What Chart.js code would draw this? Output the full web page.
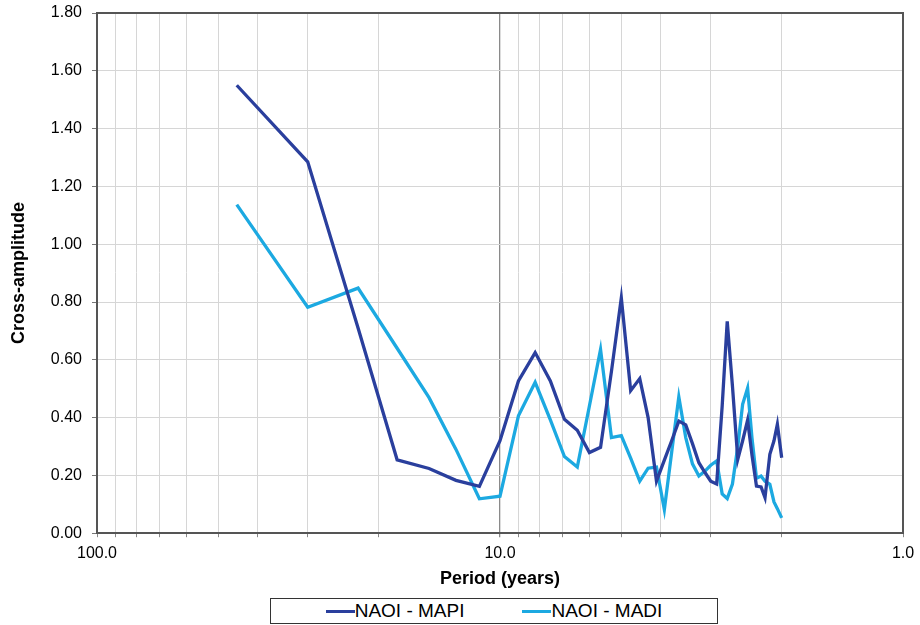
<!DOCTYPE html>
<html>
<head>
<meta charset="utf-8">
<script src="https://cdn.jsdelivr.net/npm/chart.js@4.4.1/dist/chart.umd.min.js"></script>
<style>
  html, body { margin: 0; padding: 0; background: #ffffff; }
  #wrap { position: relative; width: 920px; height: 625px; }
  #legend {
    position: absolute; left: 270px; top: 598px; width: 446px; height: 24px;
    border: 1px solid #333; background: #fff;
    display: flex; align-items: center; justify-content: center;
    font-family: "Liberation Sans", Arial, sans-serif; font-size: 19px; color: #000;
  }
  .item { display: flex; align-items: center; margin: 0 29px; }
  .swatch { display: inline-block; width: 29px; height: 3px; margin-right: 0; }
</style>
</head>
<body>
<div id="wrap">
  <canvas id="c" width="920" height="625"></canvas>
  <div id="legend"></div>
</div>
<script>
// Periods in years (x axis, logarithmic, reversed)
const periods = [45, 30, 22.5, 18, 15, 12.86, 11.25, 10, 9, 8.18,
  7.5, 6.92, 6.43, 6, 5.63, 5.29, 5, 4.74, 4.5, 4.29,
  4.09, 3.91, 3.75, 3.6, 3.46, 3.33, 3.21, 3.1, 3, 2.9,
  2.81, 2.73, 2.65, 2.57, 2.5, 2.43, 2.37, 2.31, 2.25, 2.2,
  2.14, 2.09, 2.05, 2];

// Cross-amplitude, NAOI vs MAPI
const naoiMapi = [1.55, 1.285, 0.71, 0.254, 0.224, 0.183, 0.162, 0.32, 0.527, 0.625,
  0.527, 0.394, 0.356, 0.279, 0.297, 0.56, 0.814, 0.493, 0.535, 0.40,
  0.18, 0.253, 0.32, 0.388, 0.375, 0.31, 0.244, 0.21, 0.18, 0.17,
  0.44, 0.733, 0.51, 0.256, 0.32, 0.391, 0.27, 0.163, 0.16, 0.123,
  0.273, 0.32, 0.377, 0.261];

// Cross-amplitude, NAOI vs MADI
const naoiMadi = [1.137, 0.782, 0.848, 0.64, 0.469, 0.29, 0.119, 0.128, 0.406, 0.522,
  0.392, 0.265, 0.229, 0.44, 0.636, 0.331, 0.338, 0.26, 0.18, 0.225,
  0.229, 0.082, 0.28, 0.472, 0.331, 0.24, 0.198, 0.215, 0.235, 0.25,
  0.136, 0.12, 0.17, 0.30, 0.446, 0.502, 0.33, 0.19, 0.198, 0.18,
  0.169, 0.108, 0.085, 0.053];

const seriesNames = ['NAOI - MAPI', 'NAOI - MADI'];
const seriesColors = ['#2a3f9d', '#1ca9e1'];

// Log grid positions and the decade labels
const xGridValues = [1, 2, 3, 4, 5, 6, 7, 8, 9, 10, 20, 30, 40, 50, 60, 70, 80, 90, 100];
const xLabelValues = [100, 10, 1];
const yTicks = { min: 0, max: 1.8, step: 0.2 };

const FONT = '"Liberation Sans", Arial, sans-serif';

function toPoints(vals) {
  return periods.map((p, i) => ({ x: p, y: vals[i] }));
}

const chart = new Chart(document.getElementById('c'), {
  type: 'line',
  data: {
    datasets: [
      { label: seriesNames[0], data: toPoints(naoiMapi), borderColor: seriesColors[0],
        backgroundColor: seriesColors[0], borderWidth: 3.3, pointRadius: 0, tension: 0 },
      { label: seriesNames[1], data: toPoints(naoiMadi), borderColor: seriesColors[1],
        backgroundColor: seriesColors[1], borderWidth: 3.3, pointRadius: 0, tension: 0 }
    ]
  },
  options: {
    responsive: false,
    animation: false,
    layout: { padding: { top: 13, right: 17, left: 0, bottom: 32 } },
    plugins: { legend: { display: false }, tooltip: { enabled: false } },
    scales: {
      x: {
        type: 'logarithmic',
        reverse: true,
        min: 1,
        max: 100,
        afterBuildTicks: (scale) => {
          scale.ticks = xGridValues.map(v => ({ value: v }));
        },
        afterFit: (scale) => { scale.height -= 2; },
        ticks: {
          autoSkip: false,
          maxRotation: 0,
          padding: 7,
          color: '#000',
          font: { family: FONT, size: 16 },
          callback: (v) => xLabelValues.includes(v) ? v.toFixed(1) : ''
        },
        grid: {
          color: (ctx) => (ctx.tick && ctx.tick.value === 10) ? '#8a8a8a' : '#d6d6d6',
          lineWidth: (ctx) => (ctx.tick && ctx.tick.value === 10) ? 1.3 : 1,
          tickLength: 4,
          tickColor: '#888'
        },
        border: { color: '#555', width: 2 },
        title: {
          display: true, text: 'Period (years)', color: '#000',
          font: { family: FONT, size: 18, weight: 'bold' },
          padding: { top: 0, bottom: 3 }
        }
      },
      y: {
        min: yTicks.min,
        max: yTicks.max,
        afterFit: (scale) => { scale.width = 97; scale.paddingTop = 0; },
        ticks: {
          stepSize: yTicks.step,
          padding: 10,
          color: '#000',
          font: { family: FONT, size: 16 },
          callback: (v) => Number(v).toFixed(2)
        },
        grid: { color: '#d6d6d6', lineWidth: 1, tickLength: 5, tickColor: '#777' },
        border: { color: '#555', width: 2 },
        title: {
          display: true, text: 'Cross-amplitude', color: '#000',
          font: { family: FONT, size: 18, weight: 'bold' },
          padding: { top: 8, bottom: 4 }
        }
      }
    }
  },
  plugins: [{
    id: 'frame',
    // closes the plot area with a top and right border
    afterDraw(c) {
      const a = c.chartArea, ctx = c.ctx;
      ctx.save();
      ctx.strokeStyle = '#555';
      ctx.lineWidth = 2;
      ctx.beginPath();
      ctx.moveTo(a.left, a.top);
      ctx.lineTo(a.right, a.top);
      ctx.lineTo(a.right, a.bottom);
      ctx.stroke();
      ctx.restore();
    }
  }]
});

// Legend built from the chart's datasets
const legend = document.getElementById('legend');
chart.data.datasets.forEach(ds => {
  const item = document.createElement('div');
  item.className = 'item';
  const sw = document.createElement('span');
  sw.className = 'swatch';
  sw.style.background = ds.borderColor;
  const tx = document.createElement('span');
  tx.textContent = ds.label;
  item.appendChild(sw);
  item.appendChild(tx);
  legend.appendChild(item);
});
</script>
</body>
</html>
